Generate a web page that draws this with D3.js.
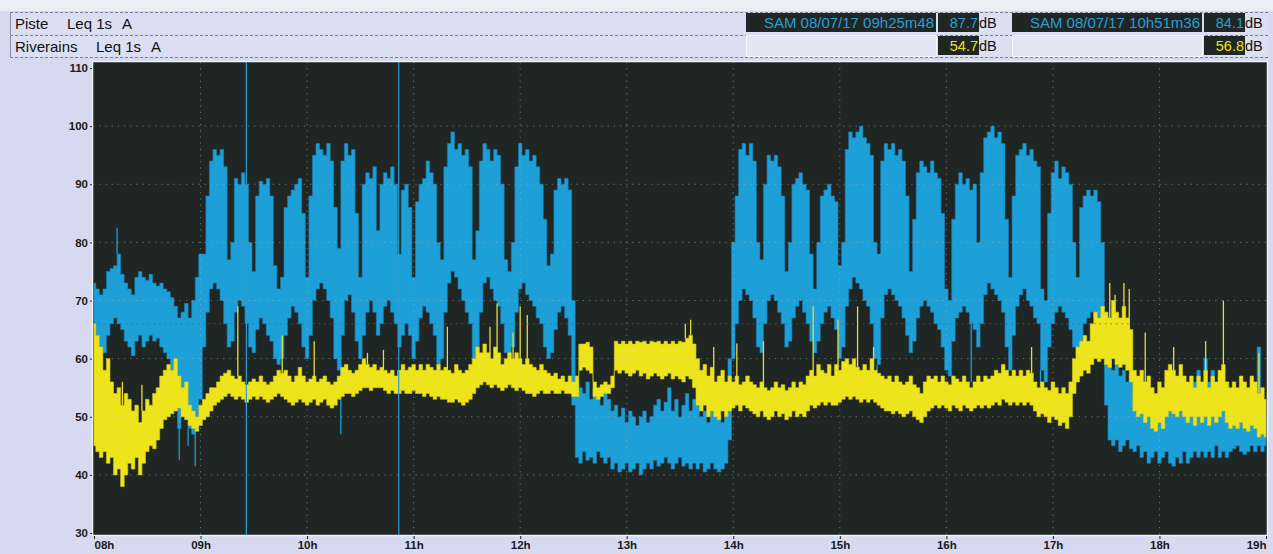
<!DOCTYPE html>
<html>
<head>
<meta charset="utf-8">
<script src="https://cdn.jsdelivr.net/npm/d3@7/dist/d3.min.js"></script>
<style>
  body { margin: 0; background: #d6d9ef; }
  svg { display: block; font-family: "Liberation Sans", Arial, sans-serif; }
</style>
</head>
<body>
<svg id="chart" width="1273" height="554"></svg>
<script>
// one sample every 2 minutes from 08h00 to 19h00 : min / max of the 1 s levels (dB(A))
const stepMin = 2;

const pisteHi = [
  73,72,71,72,75,75.5,76,78,74.5,73, 72,71,74,75,74,73.5,74.5,73,72.5,73,
  72,71.5,70.5,69,67,68,69.5,67,70,74, 78,78,88,94,96,95,96,93,77,80,
  91,90,92,90,80,75,88,90.5,90,91, 88,76,72,74,86,88,89,90,91,85,
  74,88,95,97,96,95,97,94,86,79, 94,97,95,96,85,74,90,92,91,93,
  82,90,92,91,93,90,78,89,90,86, 74,87,90,91,94,92,90,80,77,93,
  97,99,96,97,95,96,93,77,82,94, 97,96,94,96,95,90,77,75,80,93,
  97,95,96,94,95,93,90,84,76,78, 89,91,90,91,89,70,56,55,54,56,
  53,55,54,52,54,53,51,52,50,51.5, 49,51,50,48.5,50,51,49,50,52,53,
  51,52.5,55,51,53,50,52,54,51,53, 52,50,51,49,51,52,50,49,50,60,
  80,88,96,97,95,97,94,80,77,90, 95,94,95,93,88,75,80,90,91,92,
  90,89,78,72,80,88,89,90,88,87, 76,80,96,99,98,99,100,98,97,95,
  80,78,94,97,96,97,95,96,94,88, 75,84,92,94,93,92,94,92,91,85,
  72,70,84,90,92,90,91,89,90,80, 92,98,99,100,98,99,97,84,74,88,
  95,96,97,95,96,94,93,72,70,85, 92,94,91,93,92,90,80,74,86,88,
  89,88,89,87,80,68,62,58,60,57, 58,56,57,54,55,53,55,52,54,53,
  51,55,56,54,55,53,54,52,55,53, 56,58,55,60,56,58,55,57,54,56,
  53,51,50,51,49,52,50,55,62,52,50
];
const pisteLo = [
  65,64,62,61,64,66,67,66,65,63, 62,60.5,63,64,62,63,64,63,63.5,62,
  61,60,58,53,48,52,50,48,47,50, 53,62,68,72,73,72,70,66,62,63,
  68,70,69,66,62,61,65,67,66,64, 63,60,59,60,64,67,69,68,66,62,
  60,64,70,72,73,72,70,67,60,58, 64,70,71,68,63,60,64,68,70,68,
  64,66,69,70,68,66,62,64,66,64, 60,63,67,69,68,66,64,59,60,68,
  73,75,74,72,70,68,66,60,62,68, 73,74,72,70,69,66,61,59,62,68,
  72,73,71,70,69,67,66,62,60,61, 65,68,69,67,64,52,43,42,44,42.5,
  43,42,44,43,42,43,41,42,40.5,41, 42,40.5,41,42,40,41,42,41,42.5,41.5,
  42,43,42,41,42,43,41.5,42,41,42, 41,42,40.5,41,42,41,40.5,41,42,46,
  60,66,70,72,71,70,67,62,61,66, 70,71,70,68,66,62,63,67,69,70,
  68,66,63,61,63,66,68,69,67,65, 60,62,69,72,74,73,72,70,69,66,
  60,59,67,71,72,71,70,69,67,64, 61,63,67,69,70,69,68,66,65,62,
  58,57,63,67,68,69,68,66,65,62, 66,71,73,72,71,70,68,62,58,64,
  69,71,72,70,69,67,66,58,56,62, 66,68,69,68,67,65,62,60,63,66,
  67,68,67,66,62,52,46,45,46,44, 45,46,44.5,44,45,43,44,42,43,44,
  42,43,44,42,41.5,43,42,44,42,43, 44,43,44,43,44,43,45,43,44,43,
  44,44.5,45,44,43.5,44,45,44,45,44,45
];
const riverainsHi = [
  66,64,62,58,60,56,54,55,52,54, 53,51,52,49,51,53,52,54,55,57,
  58,59,58,60,57,55,56,52,51,50, 52,53,54,55,55,56,57,57.5,58,57,
  56.5,57,56,55.5,56,56.5,56,57,56,55.5, 56,57,58,57.5,58,57,56,57,58.5,57,
  56,56.5,57,56,56.5,57,56,55.5,56,57, 58.5,59,58,57.5,58,59,60,59,58.5,59,
  58,58.5,58,57.5,58,57,58,59,58,58.5, 59,58,59,58,59,58.5,58,59,58,58.5,
  58,57.5,59,58,57.5,58,59,60,62,61, 62.5,61,60,62,61,59,60,61,60,61,
  60,59,60,59,58.5,58,59,58,57.5,57, 57.5,56.5,57,56,57,56,57,62.5,62.5,62.8,
  62,56,55,55.5,56,55.5,57,63,62.5,63, 62.5,63,62.5,63,62.8,63,62.5,63,62.8,63,
  62.5,63,62.5,63,62.5,63,62.8,63.5,64,62.5, 60,58,59,57,58.5,56,57,58,56,57,
  56,57,55.5,56,57,56,55.5,55,56,55, 54.5,55,56,55,55.5,54.5,55,56,55,56,
  55.5,57,58,57,59,58,57.5,59,57,59, 58,59.5,60,59,60,58.5,58,59,58,60,
  58,57.5,57,56.5,57,56,57,56,55.5,56, 57,55.5,55,54,56,57,56.5,57,56,57,
  56,55.5,57,56.5,56,57,56,55,56,57, 56,57,56.5,57,58,57.5,59,58,57,58,
  57,58,57,58,57.5,56,55,56,55,54.5, 56,55,54,55,54,56,60,62,63,64,
  63,66,68,67,69,68,67,70,68,67, 69,67,65,58,57,58,56,57,55,54,
  56,55,58,59,58,57,59,57,56,57, 55,57,56,58,55,57,56,58,59,56,
  55,56,55,57,56,55,57,56,54,55,53
];
const riverainsLo = [
  45,44,43,44,42,43,40,41,38,40, 42,41,43,40,42,44,45,44.5,46,48,
  49.5,50,50.5,51,51.5,50,49.5,48.5,48,47.5, 48.5,49.5,50,51,52,52.5,53,53.5,54,53.5,
  53,53.5,53,52.5,53,53.5,53,53.5,53,52.5, 53,53.5,54,53.5,53,52.5,52,52.5,53,52.5,
  52,52.5,53,52,52.5,53,52,51.5,52,53, 53.5,54,54,53.5,54,54.5,55,55,54.5,55,
  55,55,54.5,54,54.5,54,54,54.5,54,54, 54.5,54,54,53.5,54,53.5,53,53.5,53,53,
  52.5,52.5,53,52.5,52,52.5,53,54,55,55.5, 56,55.5,55,55.5,55,54.5,55,55.5,55,54.5,
  55,54.5,54,54,53.5,54,54.5,54,54,54.5, 54,54,54.5,54,54,53.5,53.5,58,58.5,58,
  57.5,53.5,53,53.5,54,54,55,58,57.5,58, 57.5,57,57.5,58,57,57.5,56.5,57,57.5,57,
  56.5,57,57.5,56.5,57,56.5,56,57,56.5,55, 52,51,52,50,51,50,49.5,51,50,51,
  51.5,52,51,52,51.5,51,50.5,50,51,50, 49.5,50,51,50,50.5,49.5,50,51,50,50.5,
  50,51,52,51.5,52,52.5,52,52.5,52,52, 52.5,53,53.5,53,53.5,53,52.5,53,52.5,53,
  52.5,52,51.5,51,51,50.5,51,50.5,50,50.5, 51,50,49.5,49,50,51,51.5,52,51.5,52,
  51.5,51,52,51.5,51,52,51.5,51,51.5,52, 51.5,52,51.5,52,52.5,52,53,52.5,52,52.5,
  52,52.5,52,52.5,52,51,50,50.5,50,49, 50,49.5,48.5,49,48,50,54,56,57,58,
  57.5,59,60,59.5,60,59,58.5,60,59,58.5, 59,58,56,51,50,50.5,49,50,48,47.5,
  49,48,50,51,50.5,50,51,50,49,50, 48.5,50,49,50,48.5,50,49,50,51,49,
  48,48.5,48,49,48,47.5,48.5,48,46.5,47,46.5
];

// isolated 1 s events: [minutes after 08h00, dB]
const riverainsPeaks = [
  [16,56],[27,55.5],[81,69],[106,64],[124,63],[154,61],[163,61.5],[199,65.5],
  [223,65.5],[227,69.5],[236,64.5],[240,69],[244,67.5],[333,66],[336,66.7],
  [349,62],[362,62.6],[377,63],[405,69],[419,66.7],[430,69],[439,62],[528,62],
  [572,73],[575,71],[580,73],[583,72],[592,64.5],[608,62],[626,63],[636,70],[656,61]
];
const pisteDips = [[48,42.6],[53,45],[57,41.5],[139,47],[441,54],[494,56],[533,55]];
const pistePeaks = [[13,82.5]];

const hourLabels = ["08h","09h","10h","11h","12h","13h","14h","15h","16h","17h","18h","19h"];
const dbTicks = [30,40,50,60,70,80,90,100,110];
const limitDb = 66;

const seriesNames = ["Piste", "Riverains"];
const indicator = "Leq 1s";
const weighting = "A";
const dayLabel = "SAM 08/07/17";
const cursorTimes = ["09h25m48", "10h51m36"];
const cursorPiste = ["87.7", "84.1"];
const cursorRiverains = ["54.7", "56.8"];

const colors = { bg: "#1f2624", piste: "#1d9fd8", riverains: "#eee41c", cursor: "#2a9ed4" };

const svg = d3.select("#chart");
const plot = { left: 93, right: 1267, top: 62, bottom: 535 };

const x = d3.scaleLinear().domain([0, 660]).range([94, 1266]);
const y = d3.scaleLinear().domain([30, 110]).range([533, 68]);

const toMin = t => {
  const m = t.match(/(\d+)h(\d+)m(\d+)/);
  return (+m[1] - 8) * 60 + +m[2] + +m[3] / 60;
};

// ---- header ----
svg.append("rect").attr("x", 0).attr("y", 0).attr("width", 1273).attr("height", 11).attr("fill", "#eceef6");
const rowY = [12, 35];
rowY.forEach(ry => {
  svg.append("rect").attr("x", 10).attr("y", ry).attr("width", 1258).attr("height", 22)
    .attr("fill", "#dcdff2");
  svg.append("line").attr("x1", 10).attr("x2", 1268).attr("y1", ry + 0.5).attr("y2", ry + 0.5)
    .attr("stroke", "#7d7f93").attr("stroke-dasharray", "3,2");
});
svg.append("line").attr("x1", 10).attr("x2", 1268).attr("y1", 57.5).attr("y2", 57.5)
  .attr("stroke", "#7d7f93").attr("stroke-dasharray", "3,2");
svg.append("line").attr("x1", 10.5).attr("x2", 10.5).attr("y1", 12).attr("y2", 58).attr("stroke", "#8a8ca0");

const nameX = [[15, 67, 122], [15, 96, 151]];
seriesNames.forEach((name, r) => {
  const g = svg.append("g").attr("font-size", 15).attr("fill", "#111");
  g.append("text").attr("x", nameX[r][0]).attr("y", rowY[r] + 17).text(name);
  g.append("text").attr("x", nameX[r][1]).attr("y", rowY[r] + 17).text(indicator);
  g.append("text").attr("x", nameX[r][2]).attr("y", rowY[r] + 17).text(weighting);
});

const cellX = [746, 1012];
cursorTimes.forEach((t, k) => {
  const cx = cellX[k];
  // blank cell of the Riverains row
  svg.append("rect").attr("x", cx + 0.5).attr("y", 35.5).attr("width", 190).attr("height", 21)
    .attr("fill", "#e4e6f5").attr("stroke", "#f6f6fb");
  // time cell
  svg.append("rect").attr("x", cx).attr("y", 13).attr("width", 190).attr("height", 19).attr("fill", colors.bg);
  svg.append("text").attr("x", cx + 188).attr("y", 28).attr("text-anchor", "end")
    .attr("font-size", 15).attr("fill", colors.cursor).text(`${dayLabel} ${t}`);
  // value cells
  [[13, cursorPiste[k], colors.cursor], [36, cursorRiverains[k], colors.riverains]].forEach(([vy, v, c]) => {
    svg.append("rect").attr("x", cx + 192).attr("y", vy).attr("width", 41).attr("height", 19).attr("fill", colors.bg);
    svg.append("text").attr("x", cx + 232).attr("y", vy + 15).attr("text-anchor", "end")
      .attr("font-size", 14.5).attr("fill", c).text(v);
    svg.append("text").attr("x", cx + 233).attr("y", vy + 15)
      .attr("font-size", 14.5).attr("fill", "#111").text("dB");
  });
});

// ---- plot area ----
svg.append("defs").append("clipPath").attr("id", "clip")
  .append("rect").attr("x", plot.left).attr("y", plot.top)
  .attr("width", plot.right - plot.left).attr("height", plot.bottom - plot.top);

svg.append("rect").attr("x", plot.left).attr("y", plot.top)
  .attr("width", plot.right - plot.left).attr("height", plot.bottom - plot.top)
  .attr("fill", colors.bg);

const body = svg.append("g").attr("clip-path", "url(#clip)");

const band = d3.area()
  .curve(d3.curveStep)
  .x((d, i) => x(i * stepMin))
  .y0(d => y(d[0]))
  .y1(d => y(d[1]));

function drawSeries(lo, hi, color, edge) {
  body.append("path").datum(d3.zip(lo, hi)).attr("d", band)
    .attr("fill", color).attr("stroke", edge).attr("stroke-width", 0.6);
}

function drawSticks(points, base, color) {
  body.append("g").selectAll("line").data(points).join("line")
    .attr("x1", d => x(d[0])).attr("x2", d => x(d[0]))
    .attr("y1", d => y(base[Math.round(d[0] / stepMin)]))
    .attr("y2", d => y(d[1]))
    .attr("stroke", color).attr("stroke-width", 1.3);
}

drawSeries(pisteLo, pisteHi, colors.piste, "#1a7fb4");
drawSticks(pisteDips, pisteLo, colors.piste);
drawSticks(pistePeaks, pisteHi, colors.piste);
drawSeries(riverainsLo, riverainsHi, colors.riverains, "#d6cc14");
drawSticks(riverainsPeaks, riverainsHi, "#e6dc40");

// dotted grid
const grid = body.append("g").attr("stroke", "#b9c0b8").attr("stroke-opacity", 0.5)
  .attr("stroke-dasharray", "1.2,5");
grid.selectAll("line.h").data(dbTicks.slice(1, -1)).join("line").attr("class", "h")
  .attr("x1", plot.left).attr("x2", plot.right)
  .attr("y1", d => y(d)).attr("y2", d => y(d));
grid.selectAll("line.v").data(hourLabels.slice(1, -1).map((_, i) => (i + 1) * 60)).join("line").attr("class", "v")
  .attr("x1", d => x(d)).attr("x2", d => x(d))
  .attr("y1", plot.top).attr("y2", plot.bottom);
body.append("line").attr("x1", plot.left).attr("x2", plot.right)
  .attr("y1", y(limitDb)).attr("y2", y(limitDb))
  .attr("stroke", "#9a4a48").attr("stroke-opacity", 0.7).attr("stroke-dasharray", "1.5,4");

// cursors
body.selectAll("line.cursor").data(cursorTimes).join("line").attr("class", "cursor")
  .attr("x1", d => x(toMin(d))).attr("x2", d => x(toMin(d)))
  .attr("y1", plot.top).attr("y2", plot.bottom)
  .attr("stroke", colors.cursor).attr("stroke-width", 1.2);

// frame
svg.append("rect").attr("x", plot.left - 0.5).attr("y", plot.top - 0.5)
  .attr("width", plot.right - plot.left + 1).attr("height", plot.bottom - plot.top + 1)
  .attr("fill", "none").attr("stroke", "#f2f3fa").attr("stroke-width", 1.5);

// ---- axes ----
const yAxis = svg.append("g").attr("transform", `translate(${plot.left - 1},0)`)
  .call(d3.axisLeft(y).tickValues(dbTicks).tickSize(2).tickPadding(2).tickFormat(d3.format("d")));
const xAxis = svg.append("g").attr("transform", `translate(0,${plot.bottom + 1})`)
  .call(d3.axisBottom(x).tickValues(hourLabels.map((_, i) => i * 60)).tickSize(3).tickPadding(2)
    .tickFormat((d, i) => hourLabels[i]));

[yAxis, xAxis].forEach(a => {
  a.select(".domain").remove();
  a.selectAll(".tick line").attr("stroke", "#222");
  a.selectAll(".tick text").attr("fill", "#1a1a1a").attr("font-size", 11.5)
    .attr("font-weight", "bold").attr("font-family", "'Liberation Sans', Arial, sans-serif");
});
xAxis.selectAll(".tick text").attr("text-anchor", (d, i) => i === 0 ? "start" : i === hourLabels.length - 1 ? "end" : "middle");
</script>
</body>
</html>
